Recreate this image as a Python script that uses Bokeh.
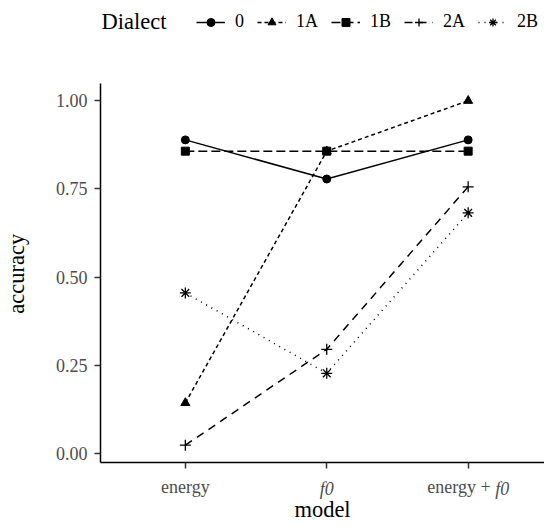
from bokeh.plotting import figure
from bokeh.models import Range1d, FixedTicker, LinearAxis, Legend, LegendItem, Label
from bokeh.embed import file_html
from bokeh.resources import INLINE

# ---- data ----
models = ["energy", "f0", "energy + f0"]
model_pos = [1, 2, 3]
dialects = ["0", "1A", "1B", "2A", "2B"]
acc_0 = [0.889, 0.778, 0.889]
acc_1A = [0.143, 0.857, 1.000]
acc_1B = [0.857, 0.857, 0.857]
acc_2A = [0.023, 0.295, 0.756]
acc_2B = [0.455, 0.227, 0.682]
y_ticks = [0.0, 0.25, 0.50, 0.75, 1.00]
y_tick_labels = ["0.00", "0.25", "0.50", "0.75", "1.00"]

series = [acc_0, acc_1A, acc_1B, acc_2A, acc_2B]
dashes = ["solid", "4 3", "9 4", "8 6", "1 5"]
markers = ["circle", "triangle", "square", "cross", "asterisk"]
msizes = [8, 9, 8, 11, 11]

SERIF = "Liberation Serif"
GREY = "#4D4D4D"
PX_PER_UNIT = 444 / 3.14   # x scale of the frame (for label offsets)

Y_LO, Y_HI = -0.026, 1.049          # visible panel range of the reference
Y_TOP = Y_HI + 83 / 352.7           # frame extends up to hold the legend

# frame: x 100..544, y 0..462 (figure pixels)
p = figure(width=544, height=524, x_range=Range1d(0.4, 3.54),
           y_range=Range1d(Y_LO, Y_TOP), output_backend="svg",
           toolbar_location=None, min_border_left=100, min_border_right=0,
           min_border_top=0, min_border_bottom=62)
p.outline_line_color = None
p.xgrid.visible = False
p.ygrid.visible = False
p.background_fill_color = "white"


def style_axis(ax):
    ax.axis_line_width = 1.5
    ax.axis_line_color = "black"
    ax.major_tick_line_width = 1.5
    ax.major_tick_line_color = "#333333"
    ax.major_tick_out = 6
    ax.major_tick_in = 0
    ax.minor_tick_out = 0
    ax.minor_tick_in = 0
    ax.major_label_text_font = SERIF
    ax.major_label_text_font_size = "18px"
    ax.major_label_text_color = GREY
    ax.axis_label_text_font = SERIF
    ax.axis_label_text_font_size = "22.5px"
    ax.axis_label_text_font_style = "normal"
    ax.axis_label_text_color = "black"


def hide_line(ax):
    ax.axis_line_color = None
    ax.major_tick_line_color = None
    ax.major_tick_out = 0


# y axis (line limited to the reference panel); title padded so that it is
# centred on the panel part of the frame
style_axis(p.yaxis[0])
p.yaxis.bounds = (Y_LO, Y_HI)
p.yaxis.ticker = FixedTicker(ticks=y_ticks)
p.yaxis.major_label_overrides = {t: l for t, l in zip(y_ticks, y_tick_labels)}
p.yaxis.major_label_standoff = 7
p.yaxis.axis_label = "accuracy" + "\u00a0" * 15
p.yaxis.axis_label_standoff = 24

# x axis: line + ticks only
xa = p.xaxis[0]
style_axis(xa)
xa.ticker = FixedTicker(ticks=model_pos)
xa.major_label_overrides = {t: "" for t in model_pos}
xa.major_label_text_font_size = "0px"
xa.major_label_standoff = 0

# upright parts of the category labels
d_left = -9.2 / PX_PER_UNIT
d_right = 34.1 / PX_PER_UNIT
up_ticks = [model_pos[0], model_pos[2] + d_left]
xb = LinearAxis(ticker=FixedTicker(ticks=up_ticks))
style_axis(xb)
hide_line(xb)
xb.major_label_overrides = {up_ticks[0]: "energy", up_ticks[1]: "energy +"}
xb.major_label_standoff = 8
p.add_layout(xb, "below")

# italic parts (f0)
it_ticks = [model_pos[1], model_pos[2] + d_right]
xc = LinearAxis(ticker=FixedTicker(ticks=it_ticks))
style_axis(xc)
hide_line(xc)
xc.major_label_overrides = {it_ticks[0]: "f0", it_ticks[1]: "f0"}
xc.major_label_text_font_style = "italic"
xc.major_label_standoff = -21
xc.axis_label = "model"
xc.axis_label_standoff = -5
p.add_layout(xc, "below")

# series
items = []
for name, vals, dash, mk, ms in zip(dialects, series, dashes, markers, msizes):
    r_line = p.line(model_pos, vals, line_color="black", line_width=1.5, line_dash=dash)
    if mk in ("cross", "asterisk"):
        r_pt = p.scatter(model_pos, vals, marker=mk, size=ms, line_color="black",
                         line_width=1.3)
    else:
        r_pt = p.scatter(model_pos, vals, marker=mk, size=ms, fill_color="black",
                         line_color="black", line_width=1)
    items.append(LegendItem(label=name, renderers=[r_line, r_pt]))

legend = Legend(items=items, orientation="horizontal", location=(96, 430),
                label_text_font=SERIF, label_text_font_size="18px",
                label_text_color="black", glyph_width=29, glyph_height=20,
                label_width=5, label_standoff=10, spacing=13, padding=0, margin=0,
                border_line_color=None, background_fill_alpha=0)
p.add_layout(legend, "center")

p.add_layout(Label(x=1, y=441, x_units="screen", y_units="screen", text="Dialect",
                   text_font=SERIF, text_font_size="22.5px", text_color="black",
                   text_baseline="middle", text_align="left"))

open("out.html", "w").write(file_html(p, INLINE))
